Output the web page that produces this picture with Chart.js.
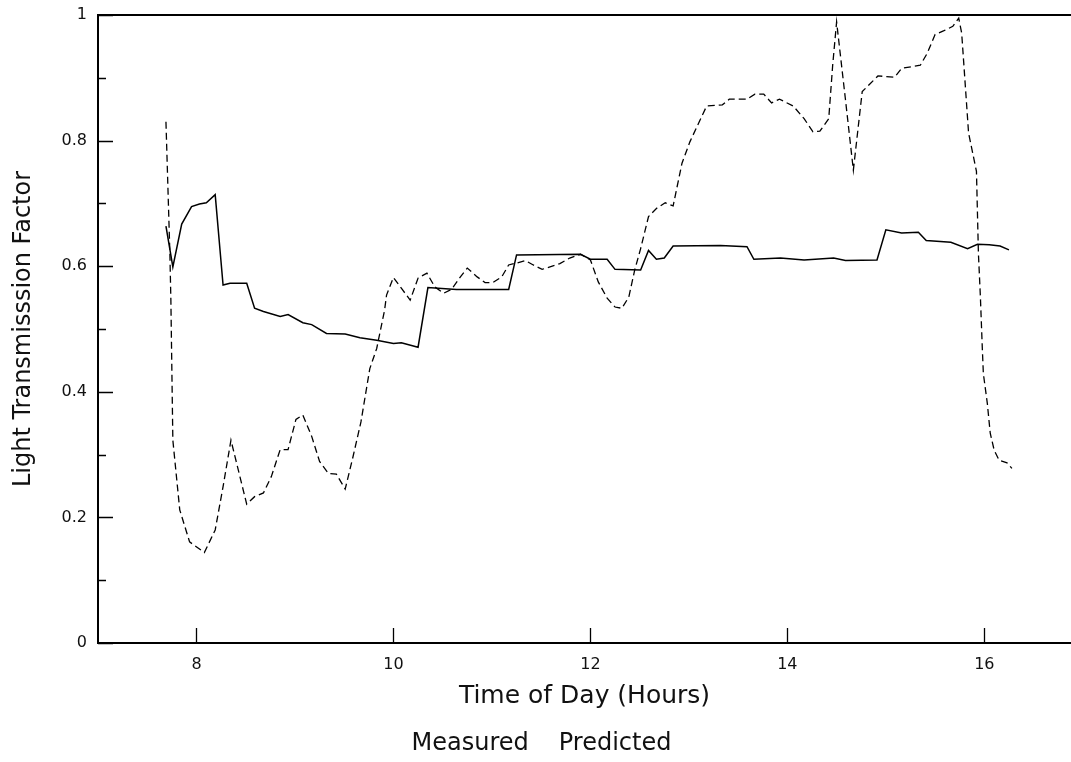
<!DOCTYPE html>
<html>
<head>
<meta charset="utf-8">
<title>Light Transmission Factor</title>
<script src="https://cdn.jsdelivr.net/npm/chart.js@4.4.1/dist/chart.umd.min.js"></script>
<style>
  html, body { margin: 0; padding: 0; background: #ffffff; overflow: hidden; }
  #wrap { width: 1071px; height: 762px; }
</style>
</head>
<body>
<div id="wrap"><canvas id="chart" width="1071" height="762"></canvas></div>
<script>
// Measured light transmission factor (solid line)
const measuredHours = [
  7.69, 7.76, 7.85, 7.95, 8.03, 8.10, 8.19, 8.27, 8.34, 8.51,
  8.59, 8.68, 8.85, 8.93, 9.08, 9.17, 9.32, 9.51, 9.66, 9.83,
  10.00, 10.08, 10.25, 10.35, 10.64, 11.17, 11.25, 11.90, 12.00, 12.17,
  12.25, 12.51, 12.59, 12.67, 12.75, 12.84, 13.32, 13.59, 13.66, 13.93,
  14.17, 14.47, 14.59, 14.91, 15.00, 15.16, 15.33, 15.41, 15.66, 15.83,
  15.93, 16.05, 16.16, 16.25
];
const measuredValues = [
  0.664, 0.599, 0.667, 0.695, 0.699, 0.701, 0.714, 0.570, 0.573, 0.573,
  0.533, 0.528, 0.520, 0.523, 0.510, 0.507, 0.493, 0.492, 0.486, 0.482,
  0.477, 0.478, 0.471, 0.566, 0.563, 0.563, 0.618, 0.619, 0.611, 0.611,
  0.595, 0.594, 0.625, 0.611, 0.613, 0.632, 0.633, 0.631, 0.611, 0.613,
  0.610, 0.613, 0.609, 0.610, 0.658, 0.653, 0.654, 0.641, 0.638, 0.628,
  0.635, 0.634, 0.632, 0.626
];

// Predicted light transmission factor (dashed line)
const predictedHours = [
  7.69, 7.73, 7.74, 7.76, 7.83, 7.93, 8.08, 8.19, 8.27, 8.35,
  8.51, 8.59, 8.68, 8.76, 8.85, 8.93, 9.01, 9.08, 9.17, 9.25,
  9.34, 9.42, 9.51, 9.59, 9.67, 9.76, 9.83, 9.91, 9.93, 10.00,
  10.08, 10.17, 10.25, 10.34, 10.42, 10.51, 10.59, 10.68, 10.75, 10.85,
  10.93, 11.01, 11.10, 11.17, 11.25, 11.34, 11.42, 11.51, 11.59, 11.69,
  11.79, 11.90, 12.00, 12.08, 12.17, 12.25, 12.32, 12.39, 12.45, 12.51,
  12.59, 12.67, 12.76, 12.84, 12.93, 13.01, 13.18, 13.34, 13.41, 13.59,
  13.67, 13.76, 13.84, 13.92, 14.06, 14.17, 14.26, 14.33, 14.42, 14.46,
  14.50, 14.59, 14.67, 14.76, 14.83, 14.92, 15.00, 15.09, 15.16, 15.27,
  15.35, 15.42, 15.50, 15.59, 15.68, 15.74, 15.77, 15.84, 15.92, 15.94,
  15.96, 15.98, 15.99, 16.03, 16.06, 16.10, 16.15, 16.23, 16.28
];
const predictedValues = [
  0.830, 0.620, 0.546, 0.323, 0.212, 0.161, 0.144, 0.180, 0.249, 0.323,
  0.221, 0.233, 0.239, 0.265, 0.308, 0.308, 0.356, 0.363, 0.329, 0.289,
  0.270, 0.269, 0.245, 0.297, 0.352, 0.437, 0.469, 0.530, 0.554, 0.582,
  0.565, 0.546, 0.581, 0.589, 0.567, 0.557, 0.563, 0.583, 0.597, 0.583,
  0.574, 0.574, 0.583, 0.602, 0.605, 0.609, 0.602, 0.595, 0.599, 0.604,
  0.613, 0.619, 0.610, 0.575, 0.549, 0.535, 0.533, 0.551, 0.594, 0.628,
  0.679, 0.692, 0.701, 0.696, 0.764, 0.798, 0.855, 0.857, 0.866, 0.866,
  0.874, 0.874, 0.860, 0.866, 0.855, 0.835, 0.814, 0.815, 0.835, 0.920,
  0.989, 0.865, 0.753, 0.878, 0.889, 0.903, 0.902, 0.901, 0.915, 0.918,
  0.920, 0.939, 0.969, 0.975, 0.982, 0.995, 0.971, 0.812, 0.751, 0.620,
  0.551, 0.467, 0.429, 0.382, 0.334, 0.307, 0.291, 0.287, 0.278
];

// Axis ticks
const hourTicks = [8, 10, 12, 14, 16];
const factorTicks = [0, 0.2, 0.4, 0.6, 0.8, 1];
const factorMinorTicks = [0.1, 0.3, 0.5, 0.7, 0.9];

const seriesLabels = ['Measured', 'Predicted'];
const xTitle = 'Time of Day (Hours)';
const yTitle = 'Light Transmisssion Factor';

const toPoints = (xs, ys) => xs.map((x, i) => ({ x: x, y: ys[i] }));

const FONT = "'DejaVu Sans', 'Liberation Sans', sans-serif";
const INK = '#111111';

// Frame line along the top and inward-pointing tick marks
const frameTicks = {
  id: 'frameTicks',
  afterDraw(chart) {
    const { ctx, chartArea } = chart;
    const xs = chart.scales.x;
    const ys = chart.scales.y;
    ctx.save();
    ctx.strokeStyle = '#000000';
    ctx.lineWidth = 2;
    ctx.beginPath();
    ctx.moveTo(chartArea.left, chartArea.top);
    ctx.lineTo(chart.width, chartArea.top);
    ctx.stroke();

    ctx.lineWidth = 1.3;
    ctx.beginPath();
    hourTicks.forEach(v => {
      const px = Math.round(xs.getPixelForValue(v)) + 0.5;
      ctx.moveTo(px, chartArea.bottom);
      ctx.lineTo(px, chartArea.bottom - 15);
    });
    factorTicks.forEach(v => {
      const py = Math.round(ys.getPixelForValue(v)) + 0.5;
      ctx.moveTo(chartArea.left, py);
      ctx.lineTo(chartArea.left + 15, py);
    });
    factorMinorTicks.forEach(v => {
      const py = Math.round(ys.getPixelForValue(v)) + 0.5;
      ctx.moveTo(chartArea.left, py);
      ctx.lineTo(chartArea.left + 8, py);
    });
    ctx.stroke();
    ctx.restore();
  }
};

new Chart(document.getElementById('chart'), {
  type: 'line',
  data: {
    datasets: [
      {
        label: seriesLabels[0],
        data: toPoints(measuredHours, measuredValues),
        borderColor: '#000000',
        borderWidth: 1.5,
        pointRadius: 0,
        tension: 0,
        fill: false
      },
      {
        label: seriesLabels[1],
        data: toPoints(predictedHours, predictedValues),
        borderColor: '#000000',
        borderWidth: 1.3,
        borderDash: [7, 4],
        pointRadius: 0,
        tension: 0,
        fill: false
      }
    ]
  },
  options: {
    responsive: false,
    animation: false,
    devicePixelRatio: 1,
    layout: { padding: { top: 15, right: 0, bottom: 0, left: 0 } },
    plugins: {
      tooltip: { enabled: false },
      legend: {
        position: 'bottom',
        maxHeight: 48,
        labels: {
          boxWidth: 0,
          boxHeight: 0,
          padding: 18,
          color: INK,
          font: { family: FONT, size: 24 }
        }
      }
    },
    scales: {
      x: {
        type: 'linear',
        min: 7,
        max: 16.88,
        afterFit(scale) { scale.height = 71; },
        afterBuildTicks(scale) { scale.ticks = hourTicks.map(v => ({ value: v })); },
        grid: { display: false, drawTicks: false },
        border: { display: true, color: '#000000', width: 2 },
        ticks: {
          padding: 12,
          color: INK,
          font: { family: FONT, size: 16 },
          callback: v => String(v)
        },
        title: {
          display: true,
          text: xTitle,
          color: INK,
          font: { family: FONT, size: 25 },
          padding: { top: 0, bottom: 3 }
        }
      },
      y: {
        type: 'linear',
        min: 0,
        max: 1,
        afterFit(scale) {
          scale.width = 98;
          scale.paddingTop = 0;
          scale.paddingBottom = 0;
        },
        afterBuildTicks(scale) { scale.ticks = factorTicks.map(v => ({ value: v })); },
        grid: { display: false, drawTicks: false },
        border: { display: true, color: '#000000', width: 2 },
        ticks: {
          padding: 11,
          color: INK,
          font: { family: FONT, size: 16 },
          callback: v => String(Math.round(v * 10) / 10)
        },
        title: {
          display: true,
          text: yTitle,
          color: INK,
          font: { family: FONT, size: 24 },
          padding: { top: 9, bottom: 0 }
        }
      }
    }
  },
  plugins: [frameTicks]
});
</script>
</body>
</html>
